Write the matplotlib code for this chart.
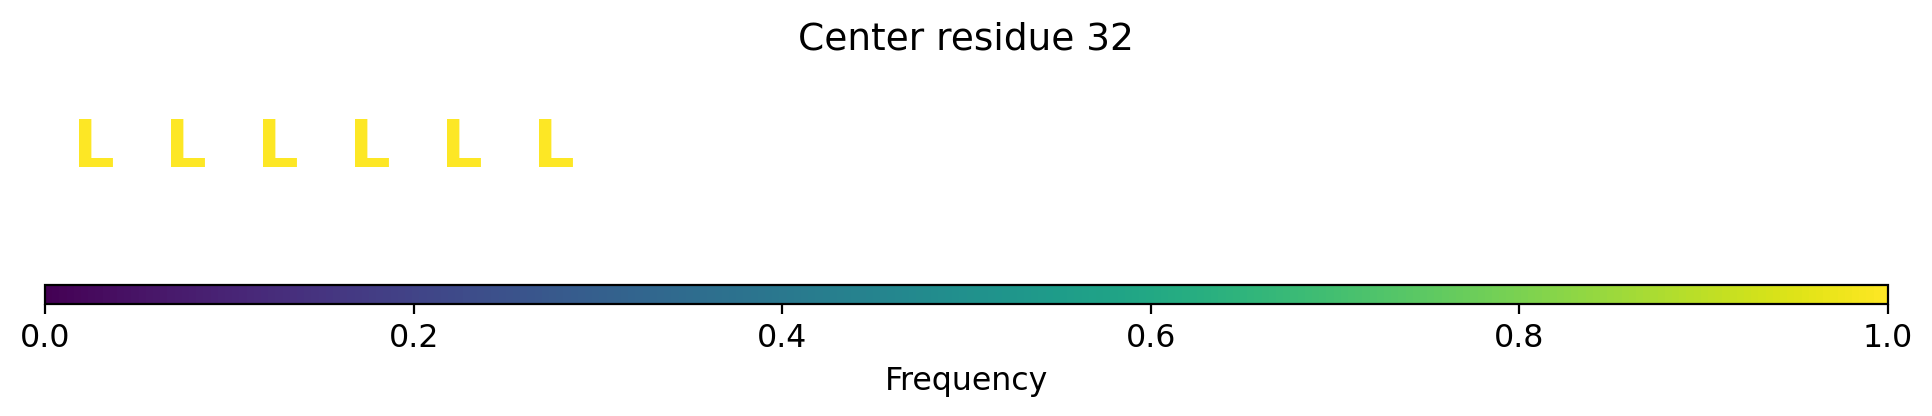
import matplotlib
matplotlib.use("Agg")
import matplotlib.pyplot as plt
import numpy as np
from matplotlib import cm, colors

letters = ["L", "L", "L", "L", "L", "L"]
positions = [0, 1, 2, 3, 4, 5]
frequencies = [1.0, 1.0, 1.0, 1.0, 1.0, 1.0]
title = "Center residue 32"
cbar_ticks = [0.0, 0.2, 0.4, 0.6, 0.8, 1.0]

W, H, DPI = 1932, 416, 200
fig = plt.figure(figsize=(W / DPI, H / DPI), dpi=DPI)

cmap = plt.get_cmap("viridis")
norm = colors.Normalize(vmin=0, vmax=1)

ax = fig.add_axes([45 / W, 1 - 219 / H, 1843 / W, 140 / H])
ax.set_xlim(-0.527, 19.473)
ax.set_ylim(0, 1)
ax.axis("off")
for x, l, f in zip(positions, letters, frequencies):
    ax.text(x, 0.5, l, ha="center", va="center", fontsize=23.6, fontweight="bold",
            color=cmap(norm(f)))

fig.text(0.5, 1 - 40 / H, title, ha="center", va="center", fontsize=13.5)

cax = fig.add_axes([45 / W, 1 - 304 / H, 1843 / W, 19 / H])
sm = cm.ScalarMappable(norm=norm, cmap=cmap)
cb = fig.colorbar(sm, cax=cax, orientation="horizontal", ticks=cbar_ticks)
cb.ax.tick_params(labelsize=11.4)
cb.set_label("Frequency", fontsize=11.4)

fig.savefig("out.png", dpi=DPI)
